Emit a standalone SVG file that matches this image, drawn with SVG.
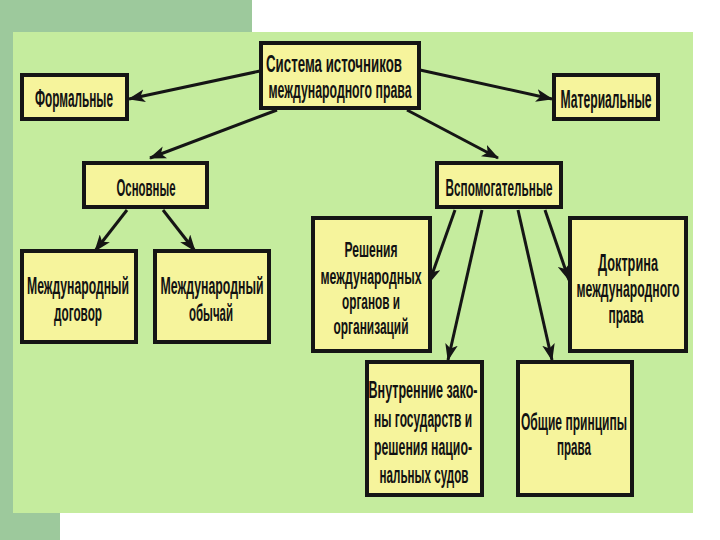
<svg xmlns="http://www.w3.org/2000/svg" width="720" height="540" viewBox="0 0 720 540">
<defs>
<style>
.box{fill:#F6F49C;stroke:#151515;stroke-width:4}
.t{font-family:"Liberation Sans Narrow","Liberation Sans","DejaVu Sans",sans-serif;font-weight:bold;fill:#121212;text-anchor:middle}
.c{stroke:#151515;stroke-width:3;fill:none;marker-end:url(#ah)}
</style>
<marker id="ah" viewBox="0 0 16 12" refX="15" refY="6" markerWidth="17" markerHeight="13" markerUnits="userSpaceOnUse" orient="auto">
<path d="M0,0 L16,6 L0,12 L4,6 z" fill="#151515"/>
</marker>
</defs>
<rect x="0" y="0" width="720" height="540" fill="#ffffff"/>
<rect x="0" y="0" width="252" height="300" fill="#9DC99C"/>
<rect x="0" y="0" width="60" height="540" fill="#9DC99C"/>
<rect x="13" y="32" width="680" height="481" fill="#C5EC9E"/>

<g id="connectors">
<line class="c" x1="260" y1="71" x2="129" y2="99"/>
<line class="c" x1="420" y1="70" x2="552" y2="99"/>
<line class="c" x1="277" y1="110" x2="150" y2="158"/>
<line class="c" x1="407" y1="110" x2="498" y2="158"/>
<line class="c" x1="127" y1="210" x2="95" y2="251"/>
<line class="c" x1="163" y1="210" x2="195" y2="251"/>
<line class="c" x1="455" y1="210" x2="429" y2="283"/>
<line class="c" x1="482" y1="210" x2="448" y2="360"/>
<line class="c" x1="518" y1="210" x2="552" y2="360"/>
<line class="c" x1="545" y1="210" x2="569" y2="280"/>
</g>

<g id="root">
<rect class="box" x="261" y="43" width="158" height="65"/>
<text class="t" transform="translate(334,72) scale(0.62,1)" font-size="23" textLength="219.4" lengthAdjust="spacingAndGlyphs">Система источников</text>
<text class="t" transform="translate(340,98) scale(0.62,1)" font-size="23" textLength="230.6" lengthAdjust="spacingAndGlyphs">международного права</text>
</g>
<g id="formal">
<rect class="box" x="22" y="75" width="105" height="44"/>
<text class="t" transform="translate(74,107) scale(0.62,1)" font-size="26" textLength="125.8" lengthAdjust="spacingAndGlyphs">Формальные</text>
</g>
<g id="material">
<rect class="box" x="554" y="75" width="104" height="44"/>
<text class="t" transform="translate(606,108) scale(0.62,1)" font-size="26" textLength="146.8" lengthAdjust="spacingAndGlyphs">Материальные</text>
</g>
<g id="osnovnye">
<rect class="box" x="84" y="163" width="123" height="44"/>
<text class="t" transform="translate(146,196) scale(0.62,1)" font-size="24" textLength="95.2" lengthAdjust="spacingAndGlyphs">Основные</text>
</g>
<g id="vspomogatelnye">
<rect class="box" x="437" y="163" width="124" height="44"/>
<text class="t" transform="translate(499,196) scale(0.62,1)" font-size="24" textLength="172.6" lengthAdjust="spacingAndGlyphs">Вспомогательные</text>
</g>
<g id="dogovor">
<rect class="box" x="22" y="251" width="114" height="91"/>
<text class="t" transform="translate(78,294) scale(0.62,1)" font-size="24" textLength="164.5" lengthAdjust="spacingAndGlyphs">Международный</text>
<text class="t" transform="translate(78,321) scale(0.62,1)" font-size="24" textLength="77.4" lengthAdjust="spacingAndGlyphs">договор</text>
</g>
<g id="obychai">
<rect class="box" x="155" y="251" width="114" height="91"/>
<text class="t" transform="translate(212,294) scale(0.62,1)" font-size="24" textLength="166.1" lengthAdjust="spacingAndGlyphs">Международный</text>
<text class="t" transform="translate(211,321) scale(0.62,1)" font-size="24" textLength="71" lengthAdjust="spacingAndGlyphs">обычай</text>
</g>
<g id="resheniya">
<rect class="box" x="313" y="218" width="117" height="133"/>
<text class="t" transform="translate(371,257) scale(0.62,1)" font-size="22" textLength="85.5" lengthAdjust="spacingAndGlyphs">Решения</text>
<text class="t" transform="translate(371,284) scale(0.62,1)" font-size="22" textLength="162.9" lengthAdjust="spacingAndGlyphs">международных</text>
<text class="t" transform="translate(371,309) scale(0.62,1)" font-size="22" textLength="93.5" lengthAdjust="spacingAndGlyphs">органов и</text>
<text class="t" transform="translate(371,334) scale(0.62,1)" font-size="22" textLength="121" lengthAdjust="spacingAndGlyphs">организаций</text>
</g>
<g id="doktrina">
<rect class="box" x="570" y="218" width="116" height="133"/>
<text class="t" transform="translate(628,271) scale(0.62,1)" font-size="23" textLength="96.8" lengthAdjust="spacingAndGlyphs">Доктрина</text>
<text class="t" transform="translate(628,297) scale(0.62,1)" font-size="23" textLength="166.1" lengthAdjust="spacingAndGlyphs">международного</text>
<text class="t" transform="translate(626,323) scale(0.62,1)" font-size="23" textLength="56.5" lengthAdjust="spacingAndGlyphs">права</text>
</g>
<g id="vnutrennie">
<rect class="box" x="367" y="362" width="115" height="133"/>
<text class="t" transform="translate(423,398) scale(0.62,1)" font-size="24" textLength="175.8" lengthAdjust="spacingAndGlyphs">Внутренние зако-</text>
<text class="t" transform="translate(423,427) scale(0.62,1)" font-size="24" textLength="158.1" lengthAdjust="spacingAndGlyphs">ны государств и</text>
<text class="t" transform="translate(423,455) scale(0.62,1)" font-size="24" textLength="158.1" lengthAdjust="spacingAndGlyphs">решения нацио-</text>
<text class="t" transform="translate(424,483) scale(0.62,1)" font-size="24" textLength="143.5" lengthAdjust="spacingAndGlyphs">нальных судов</text>
</g>
<g id="obshchie">
<rect class="box" x="518" y="362" width="114" height="133"/>
<text class="t" transform="translate(574,430) scale(0.62,1)" font-size="24" textLength="171" lengthAdjust="spacingAndGlyphs">Общие принципы</text>
<text class="t" transform="translate(574,455) scale(0.62,1)" font-size="24" textLength="54.8" lengthAdjust="spacingAndGlyphs">права</text>
</g>
</svg>
